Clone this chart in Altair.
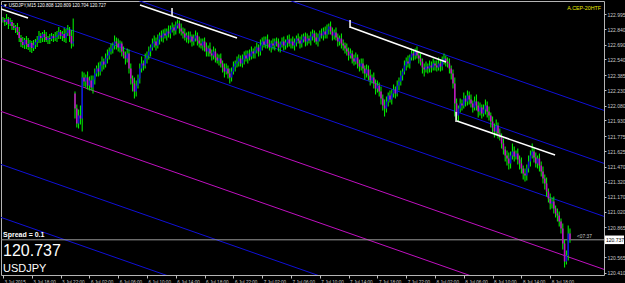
import altair as alt
import pandas as pd

# ---------------- data ----------------
symbol_header = "\u25BC USDJPY,M15  120.808 120.809 120.704 120.727"
indicator_name = "A.CEP-20HTF"
spread_text = "Spread = 0.1"
bid_price = 120.737
countdown = "<07:37"

first_open = 122.930
gap_index = 40          # Monday 6 Jul open (weekend gap)
gap_open = 122.200

closes = [
    122.935, 122.915, 122.945, 122.895, 122.915, 122.875, 122.855, 122.865, 122.815, 122.755,
    122.715, 122.685, 122.735, 122.695, 122.665, 122.705, 122.655, 122.685, 122.715, 122.735,
    122.775, 122.755, 122.795, 122.765, 122.735, 122.755, 122.745, 122.775, 122.755, 122.765,
    122.785, 122.815, 122.775, 122.795, 122.755, 122.805, 122.835, 122.775, 122.700, 122.720,
    122.05, 121.90, 121.98, 121.95, 122.36, 122.32, 122.36, 122.28, 122.33, 122.26,
    122.34, 122.40, 122.45, 122.42, 122.48, 122.52, 122.49, 122.55, 122.58, 122.62,
    122.65, 122.68, 122.72, 122.70, 122.66, 122.70, 122.62, 122.58, 122.55, 122.60,
    122.45, 122.35, 122.30, 122.22, 122.28, 122.35, 122.45, 122.50, 122.48, 122.55,
    122.58, 122.62, 122.66, 122.70, 122.72, 122.68, 122.74, 122.78, 122.76, 122.80,
    122.78, 122.82, 122.80, 122.84, 122.86, 122.83, 122.88, 122.90, 122.85, 122.82,
    122.80, 122.76, 122.78, 122.74, 122.77, 122.72, 122.75, 122.78, 122.73, 122.70,
    122.68, 122.72, 122.66, 122.62, 122.65, 122.60, 122.58, 122.62, 122.56, 122.53,
    122.55, 122.50, 122.46, 122.42, 122.45, 122.40, 122.36, 122.42, 122.47, 122.50,
    122.52, 122.55, 122.50, 122.54, 122.58, 122.55, 122.60, 122.57, 122.62, 122.60,
    122.63, 122.66, 122.62, 122.68, 122.72, 122.69, 122.74, 122.70, 122.66, 122.70,
    122.68, 122.72, 122.70, 122.66, 122.69, 122.72, 122.68, 122.71, 122.74, 122.70,
    122.72, 122.68, 122.71, 122.75, 122.73, 122.70, 122.74, 122.77, 122.72, 122.75,
    122.73, 122.77, 122.80, 122.76, 122.72, 122.76, 122.80, 122.78, 122.82, 122.79,
    122.84, 122.87, 122.82, 122.78, 122.81, 122.76, 122.72, 122.75, 122.70, 122.68,
    122.65, 122.62, 122.58, 122.60, 122.55, 122.52, 122.56, 122.50, 122.47, 122.50,
    122.45, 122.40, 122.44, 122.38, 122.33, 122.36, 122.30, 122.25, 122.28, 122.22,
    122.15, 122.08, 122.05, 122.12, 122.18, 122.14, 122.20, 122.24, 122.20, 122.28,
    122.32, 122.38, 122.42, 122.48, 122.52, 122.50, 122.56, 122.60, 122.58, 122.62,
    122.58, 122.55, 122.52, 122.46, 122.44, 122.47, 122.45, 122.48, 122.46, 122.50,
    122.48, 122.46, 122.50, 122.47, 122.52, 122.55, 122.52, 122.50, 122.45, 122.40,
    122.30, 122.10, 121.98, 122.05, 122.10, 122.08, 122.15, 122.12, 122.18, 122.14,
    122.10, 122.06, 122.12, 122.08, 122.02, 122.06, 122.00, 122.04, 122.08, 122.02,
    121.98, 121.92, 121.86, 121.82, 121.88, 121.80, 121.76, 121.70, 121.64, 121.58,
    121.55, 121.50, 121.58, 121.62, 121.57, 121.60, 121.54, 121.50, 121.45, 121.40,
    121.38, 121.45, 121.52, 121.58, 121.62, 121.56, 121.50, 121.55, 121.48, 121.42,
    121.35, 121.30, 121.22, 121.15, 121.10, 121.12, 121.05, 121.00, 120.98, 120.92,
    120.85, 120.70, 120.52, 120.58, 120.80, 120.737,
]

wick_up_pips = [
    3, 2, 5, 2, 4, 2, 3, 2, 4, 5,   3, 5, 2, 4, 6, 3, 2, 5, 3, 4,
    5, 3, 2, 4, 5, 2, 4, 3, 2, 5,   4, 5, 2, 3, 6, 4, 5, 3, 6, 23,
    2, 4, 6, 10, 6, 5, 3, 6, 4, 5,  4, 5, 3, 6, 4, 5, 3, 5, 6, 4,
    5, 3, 6, 4, 5, 3, 2, 5, 4, 5,   4, 5, 3, 6, 5, 4, 5, 7, 3, 5,
    4, 5, 3, 5, 6, 4, 5, 3, 5, 4,   5, 3, 6, 4, 5, 3, 4, 4, 3, 5,
    4, 5, 3, 4, 5, 2, 4, 5, 3, 4,   5, 3, 4, 5, 3, 6, 4, 5, 3, 4,
    4, 5, 3, 4, 5, 3, 5, 4, 5, 3,   5, 4, 3, 5, 4, 5, 3, 4, 5, 3,
    4, 5, 3, 6, 4, 5, 3, 5, 4, 3,   5, 3, 4, 5, 3, 4, 5, 3, 4, 5,
    3, 5, 4, 3, 5, 4, 5, 3, 4, 5,   3, 5, 4, 3, 5, 4, 3, 5, 4, 5,
    5, 3, 5, 4, 3, 5, 4, 3, 5, 4,   3, 5, 4, 5, 3, 4, 5, 3, 4, 5,
    5, 3, 5, 4, 6, 3, 5, 4, 5, 3,   5, 4, 6, 5, 3, 5, 4, 5, 3, 5,
    4, 5, 3, 5, 4, 6, 3, 5, 4, 3,   5, 4, 5, 3, 4, 5, 3, 5, 4, 5,
    3, 5, 6, 4, 5, 5, 3, 4, 5, 3,   4, 6, 5, 3, 5, 4, 6, 3, 5, 4,
    5, 3, 5, 7, 4, 5, 3, 5, 6, 4,   5, 3, 5, 4, 6, 3, 5, 4, 5, 3,
    5, 6, 4, 8, 5, 3, 5, 4, 6, 3,   5, 4, 6, 5, 8, 4, 5, 3, 5, 4,
    5, 4, 6, 3, 5, 4, 5, 3, 5, 4,   3, 5, 4, 5, 8, 5,
]

wick_dn_pips = [
    2, 4, 3, 5, 2, 4, 2, 5, 3, 4,   5, 3, 4, 5, 3, 5, 5, 3, 4, 5,
    3, 5, 4, 5, 2, 4, 5, 2, 4, 3,   5, 4, 3, 5, 4, 5, 3, 6, 5, 3,
    10, 4, 5, 6, 13, 5, 6, 4, 5, 3, 6, 5, 3, 5, 4, 6, 5, 3, 5, 4,
    3, 5, 4, 6, 4, 5, 5, 3, 6, 4,   5, 6, 8, 7, 5, 3, 5, 4, 5, 3,
    5, 4, 5, 3, 4, 5, 3, 5, 4, 5,   3, 5, 4, 5, 3, 5, 4, 3, 5, 4,
    5, 3, 5, 4, 3, 5, 4, 3, 5, 4,   3, 5, 4, 5, 5, 3, 5, 4, 5, 3,
    5, 4, 5, 6, 3, 5, 6, 4, 3, 5,   4, 5, 3, 4, 5, 3, 5, 4, 3, 5,
    5, 3, 5, 4, 5, 3, 4, 5, 3, 5,   4, 5, 3, 4, 5, 3, 5, 4, 5, 3,
    5, 3, 5, 4, 3, 5, 4, 3, 5, 4,   3, 5, 4, 5, 3, 5, 4, 3, 5, 4,
    4, 5, 3, 5, 4, 3, 5, 4, 5, 5,   5, 4, 5, 3, 5, 4, 3, 5, 5, 4,
    5, 6, 4, 5, 5, 3, 5, 6, 4, 5,   6, 5, 8, 4, 5, 3, 5, 4, 5, 3,
    5, 4, 5, 3, 5, 4, 5, 3, 5, 4,   3, 5, 4, 6, 7, 3, 5, 4, 5, 3,
    5, 4, 3, 5, 4, 3, 5, 4, 5, 6,   5, 13, 5, 6, 4, 5, 3, 5, 4, 5,
    4, 5, 3, 5, 6, 4, 5, 3, 5, 6,   5, 6, 5, 6, 4, 5, 3, 5, 5, 6,
    7, 6, 5, 4, 5, 3, 5, 6, 5, 6,   6, 5, 4, 5, 3, 5, 4, 5, 6, 5,
    5, 6, 5, 4, 6, 5, 5, 4, 6, 5,   5, 6, 6, 3, 5, 3,
]

price_ticks = [122.995, 122.840, 122.690, 122.540, 122.385, 122.230, 122.080, 121.930,
               121.775, 121.625, 121.470, 121.320, 121.170, 121.020, 120.865, 120.565, 120.410]

time_labels = ["3 Jul 2015", "3 Jul 18:00", "3 Jul 22:00", "6 Jul 02:00", "6 Jul 06:00",
               "6 Jul 10:00", "6 Jul 14:00", "6 Jul 18:00", "6 Jul 22:00", "7 Jul 02:00",
               "7 Jul 06:00", "7 Jul 10:00", "7 Jul 14:00", "7 Jul 18:00", "7 Jul 22:00",
               "8 Jul 02:00", "8 Jul 06:00", "8 Jul 10:00", "8 Jul 14:00", "8 Jul 18:00"]
bars_per_label = 16

# visible range
x_min, x_max = -1.111, 333.889
y_min, y_max = 120.385, 123.125

# parallel channel lines (price at left and right edge of the window)
chan_left = [124.141, 123.611, 123.081, 122.551, 122.021, 121.491, 120.961]
chan_right = [122.031, 121.501, 120.971, 120.441, 119.911, 119.381, 118.851]
chan_kind = ["blue", "blue", "blue", "magenta", "magenta", "blue", "blue"]

# white higher-timeframe segments
seg_i0 = [-1.11, 76.1, 192.8, 252.2]
seg_p0 = [123.045, 123.085, 122.865, 121.925]
seg_i1 = [13.9, 130.0, 246.1, 306.7]
seg_p1 = [122.955, 122.755, 122.515, 121.585]
tick_i = [93.9, 192.8, 251.7]
tick_p0 = [123.055, 122.935, 122.015]
tick_p1 = [122.975, 122.855, 121.915]

# ---------------- build tables ----------------
n = len(closes)
opens = [first_open] + closes[:-1]
opens[gap_index] = gap_open
highs = [max(o, c) + u * 0.01 for o, c, u in zip(opens, closes, wick_up_pips)]
lows = [min(o, c) - d * 0.01 for o, c, d in zip(opens, closes, wick_dn_pips)]
candles = pd.DataFrame({
    "i": list(range(n)), "open": opens, "close": closes, "high": highs, "low": lows,
    "dir": ["up" if c >= o else "down" for o, c in zip(opens, closes)],
})

chan = pd.DataFrame({"i0": [x_min] * len(chan_left), "i1": [x_max] * len(chan_left),
                     "p0": chan_left, "p1": chan_right, "kind": chan_kind})
segs = pd.DataFrame({"i0": seg_i0, "p0": seg_p0, "i1": seg_i1, "p1": seg_p1})
ticks = pd.DataFrame({"i0": tick_i, "p0": tick_p0, "p1": tick_p1})
bid = pd.DataFrame({"p": [bid_price], "i0": [x_min], "i1": [x_max]})

FONT = "Liberation Sans"
label_expr = "[" + ",".join("'%s'" % s for s in time_labels) + "][round(datum.value/%d)]" % bars_per_label

xs = alt.Scale(domain=[x_min, x_max], nice=False, zero=False)
ys = alt.Scale(domain=[y_min, y_max], nice=False, zero=False)
xaxis = alt.Axis(values=list(range(0, bars_per_label * len(time_labels), bars_per_label)),
                 labelExpr=label_expr, labelAlign="left", labelBaseline="top",
                 labelPadding=1, labelOffset=1, tickSize=3, tickColor="#C0C0C0",
                 labelColor="#C8C8C8", labelFont=FONT, labelFontSize=4.6,
                 labelOverlap=False, labelFlush=False, domain=False, grid=False, title=None)
yaxis = alt.Axis(orient="right", values=price_ticks, format=".3f", labelAlign="left",
                 labelPadding=1, tickSize=2, tickColor="#C0C0C0", labelColor="#C8C8C8",
                 labelFont=FONT, labelFontSize=5, labelOverlap=False, labelFlush=False,
                 domain=False, grid=False, title=None)


def X(f):
    return alt.X(f, type="quantitative", scale=xs, axis=xaxis)


def Y(f):
    return alt.Y(f, type="quantitative", scale=ys, axis=yaxis)


chan_layer = alt.Chart(chan).mark_rule(strokeWidth=1, clip=True).encode(
    x=X("i0"), x2="i1", y=Y("p0"), y2="p1",
    color=alt.Color("kind:N", scale=alt.Scale(domain=["blue", "magenta"],
                                              range=["#1010D8", "#C010C0"]), legend=None))

bid_layer = alt.Chart(bid).mark_rule(color="#9A9A9A", strokeWidth=1).encode(
    x=X("i0"), x2="i1", y=Y("p"))

wick_layer = alt.Chart(candles).mark_rule(color="#00FF00", strokeWidth=1).encode(
    x=X("i"), y=Y("low"), y2="high")
body_layer = alt.Chart(candles).mark_rule(strokeWidth=1.6).encode(
    x=X("i"), y=Y("open"), y2="close",
    color=alt.Color("dir:N", scale=alt.Scale(domain=["up", "down"],
                                             range=["#00FF00", "#009A00"]), legend=None))

seg_layer = alt.Chart(segs).mark_rule(color="#FFFFFF", strokeWidth=1.5, clip=True).encode(
    x=X("i0"), x2="i1", y=Y("p0"), y2="p1")
tick_layer = alt.Chart(ticks).mark_rule(color="#FFFFFF", strokeWidth=1.5).encode(
    x=X("i0"), y=Y("p0"), y2="p1")

one = pd.DataFrame({"k": [0]})


def label(text, x, y, size, color="#FFFFFF", weight="normal", align="left", baseline="middle"):
    return alt.Chart(one).mark_text(text=text, font=FONT, fontSize=size, color=color,
                                    fontWeight=weight, align=align, baseline=baseline).encode(
        x=alt.value(x), y=alt.value(y))


header = label(symbol_header, 2, 5, 4.5)
ind = label(indicator_name, 600, 7, 5.3, color="#E8E800", align="right")
spread = label(spread_text, 2, 234, 7, weight="bold")
big = label("%.3f" % bid_price, 2, 255, 16, baseline="alphabetic")
sym = label("USDJPY", 2, 271, 11, baseline="alphabetic")
cd = label(countdown, 576, 236, 4.8, color="#C8C8C8")

box = alt.Chart(bid).mark_point(shape="M-1,-0.45L1,-0.45L1,0.45L-1,0.45Z", size=361,
                                filled=True, color="#FFFFFF", opacity=1).encode(
    x=alt.value(613.5), y=Y("p"))
box_text = alt.Chart(bid).mark_text(text="%.3f" % bid_price, font=FONT, fontSize=5,
                                    color="#000000", align="left", baseline="middle").encode(
    x=alt.value(605), y=Y("p"))

chart = alt.layer(chan_layer, bid_layer, wick_layer, body_layer, seg_layer, tick_layer,
                  header, ind, spread, big, sym, cd, box, box_text).properties(
    width=603, height=274,
    autosize=alt.AutoSizeParams(type="none"),
    padding={"left": 1, "top": 1, "right": 21, "bottom": 8},
    background="#000000",
).configure_view(stroke="#B4B4B4", strokeWidth=1)

chart.save("out.html", embed_options={"renderer": "svg", "actions": False})
